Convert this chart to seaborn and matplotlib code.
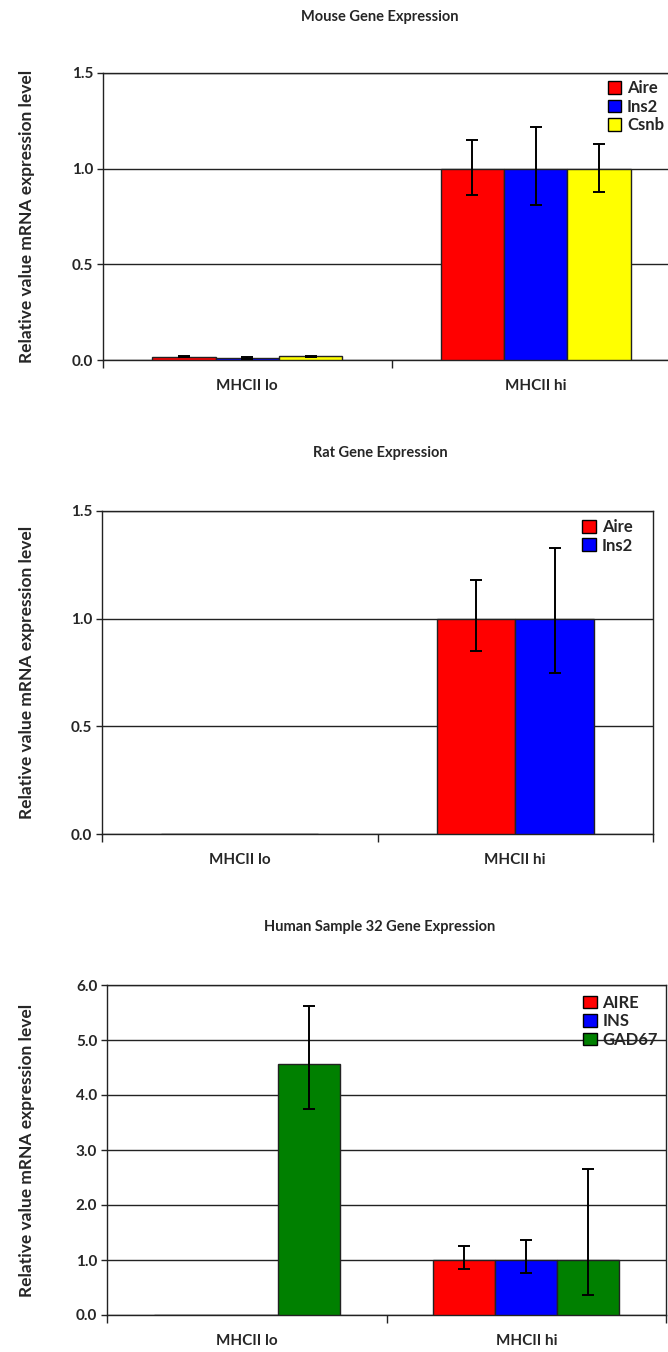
import seaborn as sns
import matplotlib.pyplot as plt
import pandas as pd
import numpy as np

# Datos
categories = ["MHCII lo", "MHCII hi"]

mouse_genes = ["Aire", "Ins2", "Csnb"]
mouse_mean = [[0.018, 0.010, 0.019], [1.0, 1.0, 1.0]]
mouse_err_low = [[0.004, 0.004, 0.004], [0.14, 0.19, 0.12]]
mouse_err_high = [[0.004, 0.004, 0.004], [0.15, 0.22, 0.13]]

rat_genes = ["Aire", "Ins2"]
rat_mean = [[0.0, 0.0], [1.0, 1.0]]
rat_err_low = [[0.0, 0.0], [0.15, 0.25]]
rat_err_high = [[0.0, 0.0], [0.18, 0.33]]

human_genes = ["AIRE", "INS", "GAD67"]
human_mean = [[0.0, 0.0, 4.57], [1.0, 1.0, 1.0]]
human_err_low = [[0.0, 0.0, 0.82], [0.17, 0.23, 0.63]]
human_err_high = [[0.0, 0.0, 1.05], [0.25, 0.36, 1.65]]

titles = ["Mouse Gene Expression", "Rat Gene Expression", "Human Sample 32 Gene Expression"]
colors3 = ["#FF0000", "#0000FF", "#FFFF00"]
colors2 = ["#FF0000", "#0000FF"]
colors_h = ["#FF0000", "#0000FF", "#008000"]

sns.set_style("white")
plt.rcParams['font.family'] = ['Lato', 'DejaVu Sans']
plt.rcParams['font.weight'] = 'bold'

W, H = 668, 1352
fig = plt.figure(figsize=(W / 100, H / 100), dpi=100)


def px_axes(l, r, t, b):
    return fig.add_axes([l / W, 1 - b / H, (r - l) / W, (b - t) / H])


panels = [
    dict(genes=mouse_genes, mean=mouse_mean, lo=mouse_err_low, hi=mouse_err_high,
         colors=colors3, box=(103, 680, 73, 360), ymax=1.5, ystep=0.5, width=0.66,
         leg=(0.875, 0.975), title_y=17),
    dict(genes=rat_genes, mean=rat_mean, lo=rat_err_low, hi=rat_err_high,
         colors=colors2, box=(102, 653, 511, 834), ymax=1.5, ystep=0.5, width=0.57,
         leg=(0.872, 0.975), title_y=453),
    dict(genes=human_genes, mean=human_mean, lo=human_err_low, hi=human_err_high,
         colors=colors_h, box=(107, 666, 985, 1315), ymax=6.0, ystep=1.0, width=0.667,
         leg=(0.852, 0.97), title_y=927),
]

for p, title in zip(panels, titles):
    l, r, t, b = p["box"]
    ax = px_axes(l, r, t, b)
    rows = []
    for ci, cat in enumerate(categories):
        for gi, g in enumerate(p["genes"]):
            rows.append({"cat": cat, "gene": g, "val": p["mean"][ci][gi]})
    df = pd.DataFrame(rows)
    sns.barplot(data=df, x="cat", y="val", hue="gene", palette=p["colors"],
                order=categories, hue_order=p["genes"], errorbar=None,
                width=p["width"], edgecolor="#222222", linewidth=1.0, ax=ax,
                saturation=1, zorder=3)

    # barras de error asimétricas
    bar_conts = list(ax.containers)[:len(p["genes"])]
    for gi, cont in enumerate(bar_conts):
        for ci, bar in enumerate(cont):
            el, eh = p["lo"][ci][gi], p["hi"][ci][gi]
            if el == 0 and eh == 0:
                continue
            xc = bar.get_x() + bar.get_width() / 2
            ax.errorbar(xc, bar.get_height(), yerr=[[el], [eh]], fmt="none",
                        ecolor="black", elinewidth=1.4, capsize=4.5, capthick=1.4,
                        zorder=4)

    ax.set_ylim(0, p["ymax"])
    ax.set_xlim(-0.5, 1.5)
    yt = np.arange(0, p["ymax"] + 1e-9, p["ystep"])
    ax.set_yticks(yt)
    ax.set_yticklabels([f"{v:.1f}" for v in yt], fontsize=11, fontweight="bold")
    for v in yt:
        ax.axhline(v, color="#222222", lw=1.0, zorder=1)

    ax.set_xticks([-0.5, 0.5, 1.5])
    ax.set_xticklabels([])
    ax.set_xticks([0, 1], minor=True)
    ax.set_xticklabels(categories, minor=True, fontsize=11, fontweight="bold")
    ax.tick_params(axis="x", which="major", direction="out", length=6, width=1,
                   color="#222222", bottom=True)
    ax.tick_params(axis="x", which="minor", length=0, pad=14)
    ax.tick_params(axis="y", direction="out", length=4, width=1, color="#222222",
                   left=True, pad=3)
    ax.set_xlabel("")

    for s in ax.spines.values():
        s.set_visible(True)
        s.set_color("#222222")
        s.set_linewidth(1.0)

    ax.set_ylabel("Relative value mRNA expression level", fontsize=12.5,
                  fontweight="bold")
    ax.yaxis.set_label_coords((35 - l) / (r - l), 0.5)

    leg = ax.legend(loc="upper left", bbox_to_anchor=p["leg"], frameon=False,
                    borderpad=0, borderaxespad=0, handlelength=0.8,
                    handleheight=0.8, handletextpad=0.35, labelspacing=0.15,
                    prop={"size": 12, "weight": "bold"})
    for h in leg.legend_handles:
        h.set_edgecolor("black")
        h.set_linewidth(1.0)

    fig.text(380 / W, 1 - p["title_y"] / H, title, ha="center", va="center",
             fontsize=10.5, fontweight="bold")

fig.savefig("out.png", dpi=100)
